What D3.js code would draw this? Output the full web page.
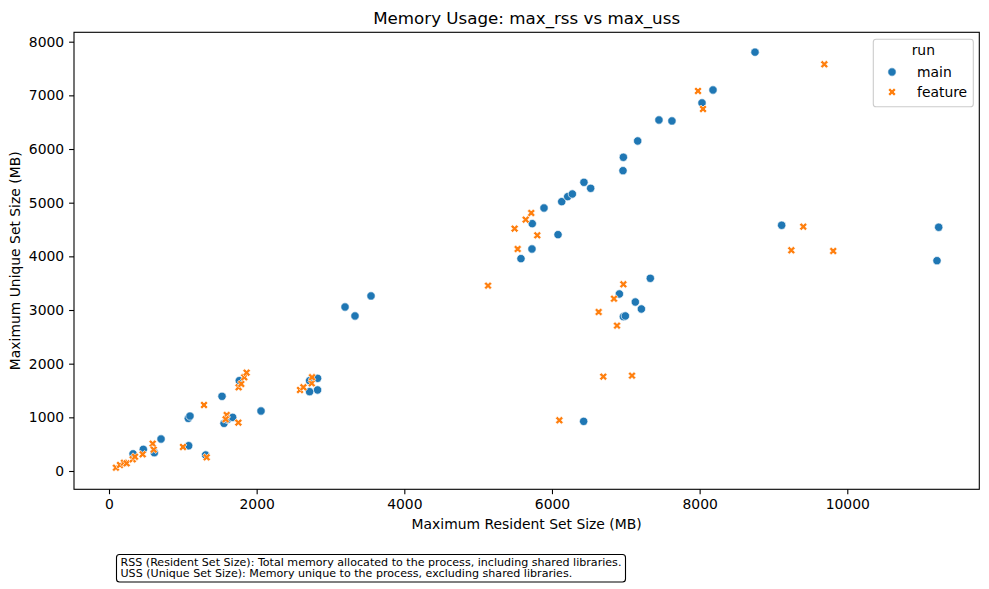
<!DOCTYPE html>
<html>
<head>
<meta charset="utf-8">
<script src="https://cdn.jsdelivr.net/npm/d3@7"></script>
<style>
  body { margin: 0; background: #fff; }
  svg { display: block; font-family: "DejaVu Sans", sans-serif; }
</style>
</head>
<body>
<svg id="chart" width="989" height="589"></svg>
<script>
// ---- data (MB) ----
const mainX = [326, 465, 614, 705, 1074, 1097, 1079, 1309, 1531, 1558, 1605, 1675, 1765, 2059,
  2717, 2825, 2825, 2717, 3197, 3332, 3549, 5580, 5729, 5733, 6082, 5892, 6132, 6213, 6276,
  6433, 6524, 6962, 6967, 7161, 7449, 7625, 8032, 8181, 8750, 6429, 6913, 7332, 7129, 7211,
  6967, 6994, 9111, 11238, 11215];
const mainY = [320, 404, 341, 596, 981, 1024, 471, 298, 1392, 888, 961, 1000, 1683, 1118,
  1683, 1727, 1510, 1478, 3056, 2889, 3262, 3957, 4137, 4609, 4404, 4901, 5019, 5113, 5162,
  5380, 5268, 5596, 5846, 6150, 6541, 6523, 6859, 7100, 7805, 925, 3299, 3591, 3149, 3019,
  2876, 2889, 4579, 4542, 3919];
const featX = [94, 149, 203, 239, 321, 352, 456, 592, 606, 1002, 1287, 1323, 1594, 1580, 1752,
  1756, 1792, 1832, 1864, 2587, 2633, 2746, 2750, 5134, 5494, 5535, 5644, 5720, 5801, 6100,
  6632, 6695, 6840, 6881, 6967, 7084, 7978, 8046, 9242, 9404, 9689, 9810];
const featY = [62, 112, 154, 143, 218, 266, 311, 509, 398, 448, 1230, 255, 1044, 964, 901,
  1560, 1622, 1746, 1832, 1510, 1560, 1634, 1746, 3454, 4516, 4137, 4684, 4808, 4392, 945,
  2963, 1758, 3211, 2709, 3479, 1777, 7082, 6746, 4113, 4553, 7579, 4100];
const xTicks = [0, 2000, 4000, 6000, 8000, 10000];
const yTicks = [0, 1000, 2000, 3000, 4000, 5000, 6000, 7000, 8000];
const seriesNames = ["main", "feature"];
const seriesColors = ["#1f77b4", "#ff7f0e"];
const titleText = "Memory Usage: max_rss vs max_uss";
const xLabel = "Maximum Resident Set Size (MB)";
const yLabel = "Maximum Unique Set Size (MB)";
const noteLines = [
  "RSS (Resident Set Size): Total memory allocated to the process, including shared libraries.",
  "USS (Unique Set Size): Memory unique to the process, excluding shared libraries."
];

// ---- layout ----
const svg = d3.select("#chart");
const L = 74, R = 979.3, T = 32.3, B = 489.3;
const x = d3.scaleLinear().domain([-474, 11788]).range([L, R]);
const y = d3.scaleLinear().domain([-341, 8175]).range([B, T]);
const fs = 13.9;

// axes
const xAxis = svg.append("g").attr("transform", `translate(0,${B})`)
  .call(d3.axisBottom(x).tickValues(xTicks).tickFormat(d3.format("d")).tickSize(4.9).tickPadding(4.9));
const yAxis = svg.append("g").attr("transform", `translate(${L},0)`)
  .call(d3.axisLeft(y).tickValues(yTicks).tickFormat(d3.format("d")).tickSize(4.9).tickPadding(4.9));
[xAxis, yAxis].forEach(g => {
  g.select(".domain").remove();
  g.selectAll("line").attr("stroke", "#000").attr("stroke-width", 1.1);
  g.selectAll("text").attr("font-size", fs).attr("fill", "#000").attr("font-family", "DejaVu Sans");
});

// frame
svg.append("rect").attr("x", L).attr("y", T).attr("width", R - L).attr("height", B - T)
  .attr("fill", "none").attr("stroke", "#000").attr("stroke-width", 1.1);

// markers
const ms = 8.33; // marker diameter px
const xPath = (() => {
  const pts = [[-1,-3],[-1,-1],[-3,-1],[-3,1],[-1,1],[-1,3],[1,3],[1,1],[3,1],[3,-1],[1,-1],[1,-3]]
    .map(([a,b]) => [a/6*ms, b/6*ms])
    .map(([a,b]) => [(a - b) / Math.SQRT2, (a + b) / Math.SQRT2]);
  return "M" + pts.map(p => p[0].toFixed(2) + "," + p[1].toFixed(2)).join("L") + "Z";
})();

const gPts = svg.append("g");
const mainData = mainX.map((v, i) => ({ x: v, y: mainY[i] }));
const featData = featX.map((v, i) => ({ x: v, y: featY[i] }));
gPts.selectAll("circle.m").data(mainData).join("circle")
  .attr("cx", d => x(d.x)).attr("cy", d => y(d.y)).attr("r", ms / 2)
  .attr("fill", seriesColors[0]).attr("stroke", "#fff").attr("stroke-width", 0.67);
gPts.selectAll("path.f").data(featData).join("path")
  .attr("d", xPath).attr("transform", d => `translate(${x(d.x)},${y(d.y)})`)
  .attr("fill", seriesColors[1]).attr("stroke", "#fff").attr("stroke-width", 0.67);

// title & labels
svg.append("text").attr("x", (L + R) / 2).attr("y", 24).attr("text-anchor", "middle")
  .attr("font-size", 16.7).text(titleText);
svg.append("text").attr("x", (L + R) / 2).attr("y", 529).attr("text-anchor", "middle")
  .attr("font-size", fs).text(xLabel);
svg.append("text").attr("transform", `translate(20,${(T + B) / 2}) rotate(-90)`)
  .attr("text-anchor", "middle").attr("font-size", fs).text(yLabel);

// legend
const lg = svg.append("g");
lg.append("rect").attr("x", 873.3).attr("y", 39.3).attr("width", 100).attr("height", 67.4)
  .attr("rx", 2.8).attr("fill", "#fff").attr("fill-opacity", 0.8)
  .attr("stroke", "#cccccc").attr("stroke-width", 1.1);
lg.append("text").attr("x", 923.3).attr("y", 55).attr("text-anchor", "middle")
  .attr("font-size", fs).text("run");
seriesNames.forEach((name, i) => {
  const cy = 72 + i * 20;
  if (i === 0) {
    lg.append("circle").attr("cx", 892).attr("cy", cy).attr("r", ms / 2)
      .attr("fill", seriesColors[0]).attr("stroke", "#fff").attr("stroke-width", 0.67);
  } else {
    lg.append("path").attr("d", xPath).attr("transform", `translate(892,${cy})`)
      .attr("fill", seriesColors[1]).attr("stroke", "#fff").attr("stroke-width", 0.67);
  }
  lg.append("text").attr("x", 917).attr("y", cy + 5).attr("font-size", fs).text(name);
});

// note box
const ng = svg.append("g");
ng.append("rect").attr("x", 116.5).attr("y", 554.5).attr("width", 509).attr("height", 27.5)
  .attr("rx", 3).attr("fill", "#fff").attr("stroke", "#000").attr("stroke-width", 1.1);
noteLines.forEach((t, i) => {
  ng.append("text").attr("x", 120.5).attr("y", 566 + i * 11.3).attr("font-size", 11.1).text(t);
});
</script>
</body>
</html>
